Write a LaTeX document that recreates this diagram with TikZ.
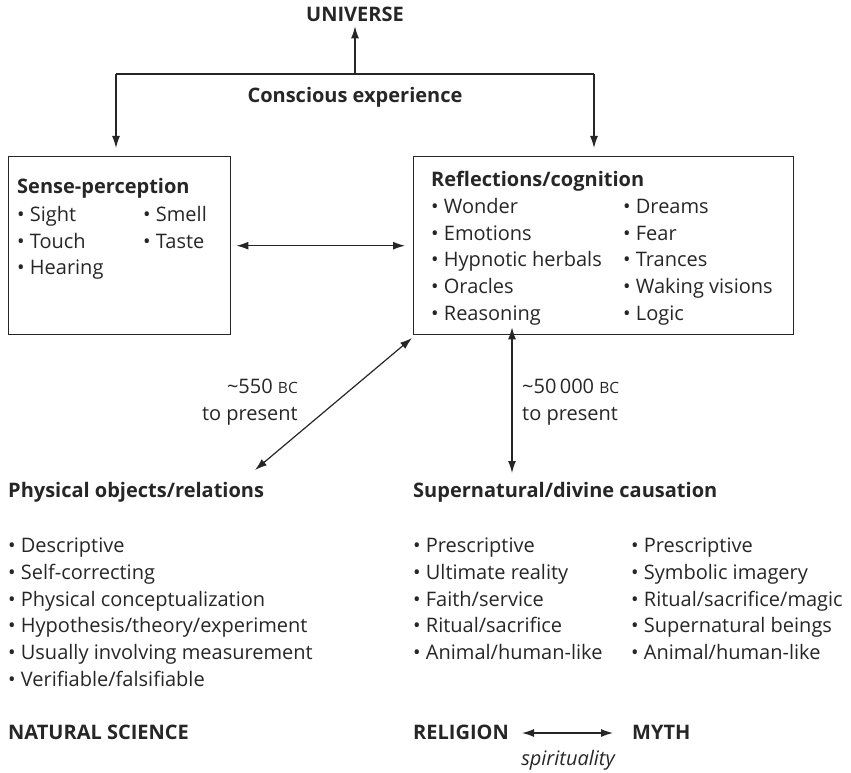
\documentclass[tikz,border=0pt]{standalone}
\usepackage{fontspec}
\setmainfont{Open Sans}
\usetikzlibrary{arrows.meta}
\definecolor{ink}{HTML}{262626}
\tikzset{
  txt/.style={anchor=base west, inner sep=0pt, text=ink, font=\fontsize{20}{24}\selectfont},
  hd/.style={txt, font=\fontsize{20}{24}\selectfont\bfseries},
  box/.style={draw=ink, line width=1.4pt, anchor=north west, inner sep=0pt},
  arr/.style={draw=ink, line width=1.2pt, -{Latex[length=12pt,width=8pt]}},
  darr/.style={draw=ink, line width=1.2pt, {Latex[length=12pt,width=8pt]}-{Latex[length=12pt,width=8pt]}},
  ln/.style={draw=ink, line width=1.2pt}
}
\newcommand{\bc}{{\fontsize{15.5}{18}\selectfont BC}}
\begin{document}
\begin{tikzpicture}[x=1pt,y=-1pt]
\useasboundingbox (0,0) rectangle (851,773);
% top
\node[hd, anchor=base] (universe) at (355,22) {UNIVERSE};
\node[hd, anchor=base] (conscious) at (355,103) {Conscious experience};
\coordinate (j) at (355,74);
\coordinate (jl) at (116,74);
\coordinate (jr) at (594,74);
% boxes
\node[box, minimum width=222pt, minimum height=178pt] (sp) at (8,156) {};
\node[box, minimum width=380pt, minimum height=178pt] (rc) at (413,156) {};
% connectors top
\draw[ln] (jl) -- (jr);
\draw[arr] (j) -- ([yshift=-4pt]universe.south);
\draw[arr, shorten >=8pt] (jl) -- (jl |- sp.north);
\draw[arr, shorten >=8pt] (jr) -- (jr |- rc.north);
\draw[darr, shorten <=5pt, shorten >=8pt] (sp.east) -- (rc.west);
% Sense-perception
\node[hd] (sph) at (17,193) {Sense-perception};
\node[txt] (sp1) at (17,221) {• Sight};
\node[txt] (sp2) at (17,248) {• Touch};
\node[txt] (sp3) at (17,274) {• Hearing};
\node[txt] (sp4) at (143,221) {• Smell};
\node[txt] (sp5) at (143,248) {• Taste};
% Reflections
\node[hd] (rch) at (431,186) {Reflections/cognition};
\node[txt] (r1) at (431,213) {• Wonder};
\node[txt] (r2) at (431,240) {• Emotions};
\node[txt] (r3) at (431,266) {• Hypnotic herbals};
\node[txt] (r4) at (431,293) {• Oracles};
\node[txt] (r5) at (431,320) {• Reasoning};
\node[txt] (r6) at (623,213) {• Dreams};
\node[txt] (r7) at (623,240) {• Fear};
\node[txt] (r8) at (623,266) {• Trances};
\node[txt] (r9) at (623,293) {• Waking visions};
\node[txt] (r10) at (623,320) {• Logic};
% middle labels
\node[txt, anchor=base east] (d1a) at (298,393) {\textasciitilde550 \bc};
\node[txt, anchor=base east] (d1b) at (298,420) {to present};
\node[txt] (d2a) at (522,393) {\textasciitilde50\,000 \bc};
\node[txt] (d2b) at (522,420) {to present};
% headings bottom
\node[hd] (phys) at (8,497) {Physical objects/relations};
\node[hd] (super) at (413,497) {Supernatural/divine causation};
% diagonal & vertical arrows
\coordinate (dtop) at (412,338);
\coordinate (dbot) at (255,470);
\draw[darr] (dtop) -- (dbot);
\coordinate (vtop) at ([xshift=99pt,yshift=8pt]rc.south west);
\draw[darr] (vtop) -- (vtop |- 0,473);
% lists bottom
\node[txt] (p1) at (8,552) {• Descriptive};
\node[txt] (p2) at (8,579) {• Self-correcting};
\node[txt] (p3) at (8,606) {• Physical conceptualization};
\node[txt] (p4) at (8,632) {• Hypothesis/theory/experiment};
\node[txt] (p5) at (8,659) {• Usually involving measurement};
\node[txt] (p6) at (8,686) {• Verifiable/falsifiable};
\node[txt] (s1) at (413,552) {• Prescriptive};
\node[txt] (s2) at (413,579) {• Ultimate reality};
\node[txt] (s3) at (413,606) {• Faith/service};
\node[txt] (s4) at (413,632) {• Ritual/sacrifice};
\node[txt] (s5) at (413,659) {• Animal/human-like};
\node[txt] (m1) at (631,552) {• Prescriptive};
\node[txt] (m2) at (631,579) {• Symbolic imagery};
\node[txt] (m3) at (631,606) {• Ritual/sacrifice/magic};
\node[txt] (m4) at (631,632) {• Supernatural beings};
\node[txt] (m5) at (631,659) {• Animal/human-like};
% bottom
\node[hd] (ns) at (8,739) {NATURAL SCIENCE};
\node[hd] (rel) at (413,739) {RELIGION};
\node[hd] (myth) at (632,739) {MYTH};
\draw[darr] (522,733) -- (613,733);
\node[txt, anchor=base, font=\fontsize{20}{24}\selectfont\itshape] (spir) at (568,765) {spirituality};
\end{tikzpicture}
\end{document}
